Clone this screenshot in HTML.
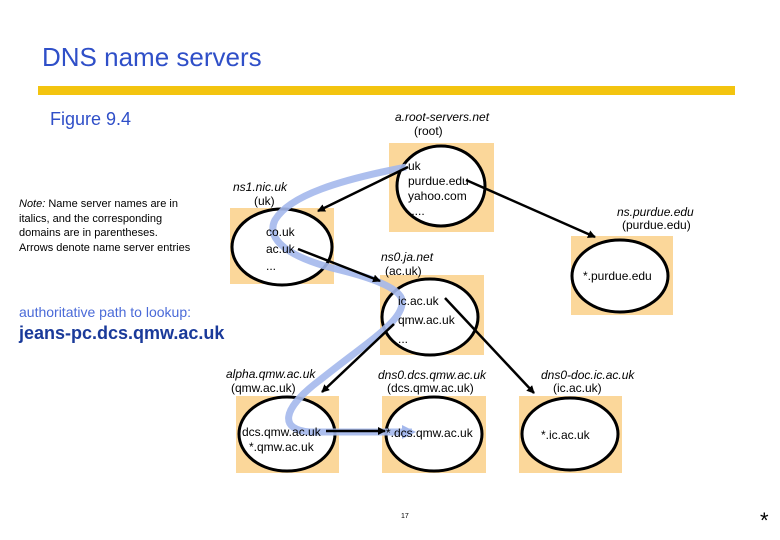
<!DOCTYPE html>
<html><head><style>
body{margin:0;width:780px;height:540px;background:#fff;position:relative;overflow:hidden;font-family:"Liberation Sans",sans-serif}
.t{position:absolute;white-space:nowrap;font-size:12px;color:#000}
.i{font-style:italic}
</style></head><body>
<div class="t" style="left:42px;top:42px;font-size:26px;color:#2f4fc8">DNS name servers</div>
<div style="position:absolute;left:38px;top:86px;width:697px;height:9px;background:#f3c40f"></div>
<div class="t" style="left:50px;top:109px;font-size:18px;color:#2f4fc8">Figure 9.4</div>
<div class="t" style="left:19px;top:197px;font-size:11px;line-height:14.5px"><i>Note:</i> Name server names are in<br>italics, and the corresponding<br>domains are in parentheses.<br>Arrows denote name server entries</div>
<div class="t" style="left:19px;top:304px;font-size:14px;color:#4a6ad8">authoritative path to lookup:</div>
<div class="t" style="left:19px;top:323px;font-size:18px;font-weight:bold;color:#1a3a9a">jeans-pc.dcs.qmw.ac.uk</div>
<svg width="780" height="540" style="position:absolute;left:0;top:0">
<defs><marker id="a" markerWidth="8" markerHeight="8" refX="7" refY="4" orient="auto" markerUnits="userSpaceOnUse" viewBox="0 0 8 8"><path d="M0,0L8,4L0,8z" fill="#000"/></marker>
<marker id="b" markerWidth="14" markerHeight="14" refX="10" refY="7" orient="auto" markerUnits="userSpaceOnUse"><path d="M0,0L14,7L0,14z" fill="#a4b8ec"/></marker></defs>
<g fill="#fbd79a">
<rect x="389" y="143" width="105" height="89"/>
<rect x="230" y="208" width="104" height="76"/>
<rect x="380" y="275" width="104" height="80"/>
<rect x="571" y="236" width="102" height="79"/>
<rect x="236" y="396" width="103" height="77"/>
<rect x="382" y="396" width="104" height="77"/>
<rect x="519" y="396" width="103" height="77"/>
</g>
<g fill="#fff" stroke="#000" stroke-width="3">
<ellipse cx="441" cy="186" rx="44" ry="40"/>
<ellipse cx="282" cy="247" rx="50" ry="38"/>
<ellipse cx="430" cy="317" rx="48" ry="38"/>
<ellipse cx="620" cy="276" rx="48" ry="36"/>
<ellipse cx="287" cy="434" rx="48" ry="37"/>
<ellipse cx="434" cy="434" rx="48" ry="37"/>
<ellipse cx="570" cy="434" rx="48" ry="36"/>
</g>
<path d="M406,167 C340,180 290,195 275,220 C265,240 290,258 340,270 C380,280 400,290 402,300 C405,320 370,340 320,380 C280,410 280,430 310,432 L412,432" fill="none" stroke="#a4b8ec" stroke-width="7" stroke-opacity="0.9" marker-end="url(#b)"/>
<g stroke="#000" stroke-width="2.5" marker-end="url(#a)">
<line x1="408" y1="167" x2="318" y2="211"/>
<line x1="466" y1="180" x2="595" y2="237"/>
<line x1="298" y1="249" x2="380" y2="281"/>
<line x1="445" y1="298" x2="534" y2="393"/>
<line x1="394" y1="324" x2="322" y2="392"/>
<line x1="326" y1="431" x2="385" y2="431"/>
</g>
</svg>
<div class="t i" style="left:395px;top:110px">a.root-servers.net</div>
<div class="t" style="left:414px;top:124px">(root)</div>
<div class="t" style="left:408px;top:159px;line-height:15px">uk<br>purdue.edu<br>yahoo.com<br>&nbsp;....</div>
<div class="t i" style="left:233px;top:180px">ns1.nic.uk</div>
<div class="t" style="left:254px;top:194px">(uk)</div>
<div class="t" style="left:266px;top:224px;line-height:17px">co.uk<br>ac.uk<br>...</div>
<div class="t i" style="left:381px;top:250px">ns0.ja.net</div>
<div class="t" style="left:385px;top:264px">(ac.uk)</div>
<div class="t" style="left:398px;top:292px;line-height:19px">ic.ac.uk<br>qmw.ac.uk<br>...</div>
<div class="t i" style="left:617px;top:205px">ns.purdue.edu</div>
<div class="t" style="left:622px;top:218px">(purdue.edu)</div>
<div class="t" style="left:583px;top:269px">*.purdue.edu</div>
<div class="t i" style="left:226px;top:367px">alpha.qmw.ac.uk</div>
<div class="t" style="left:231px;top:381px">(qmw.ac.uk)</div>
<div class="t" style="left:242px;top:425px;line-height:15px;text-align:center">dcs.qmw.ac.uk<br>*.qmw.ac.uk</div>
<div class="t i" style="left:378px;top:368px">dns0.dcs.qmw.ac.uk</div>
<div class="t" style="left:387px;top:381px">(dcs.qmw.ac.uk)</div>
<div class="t" style="left:386px;top:426px">*.dcs.qmw.ac.uk</div>
<div class="t i" style="left:541px;top:368px">dns0-doc.ic.ac.uk</div>
<div class="t" style="left:553px;top:381px">(ic.ac.uk)</div>
<div class="t" style="left:541px;top:428px">*.ic.ac.uk</div>
<div class="t" style="left:401px;top:513px;font-size:7px">17</div>
<div class="t" style="left:760px;top:508px;font-size:22px">*</div>
</body></html>
